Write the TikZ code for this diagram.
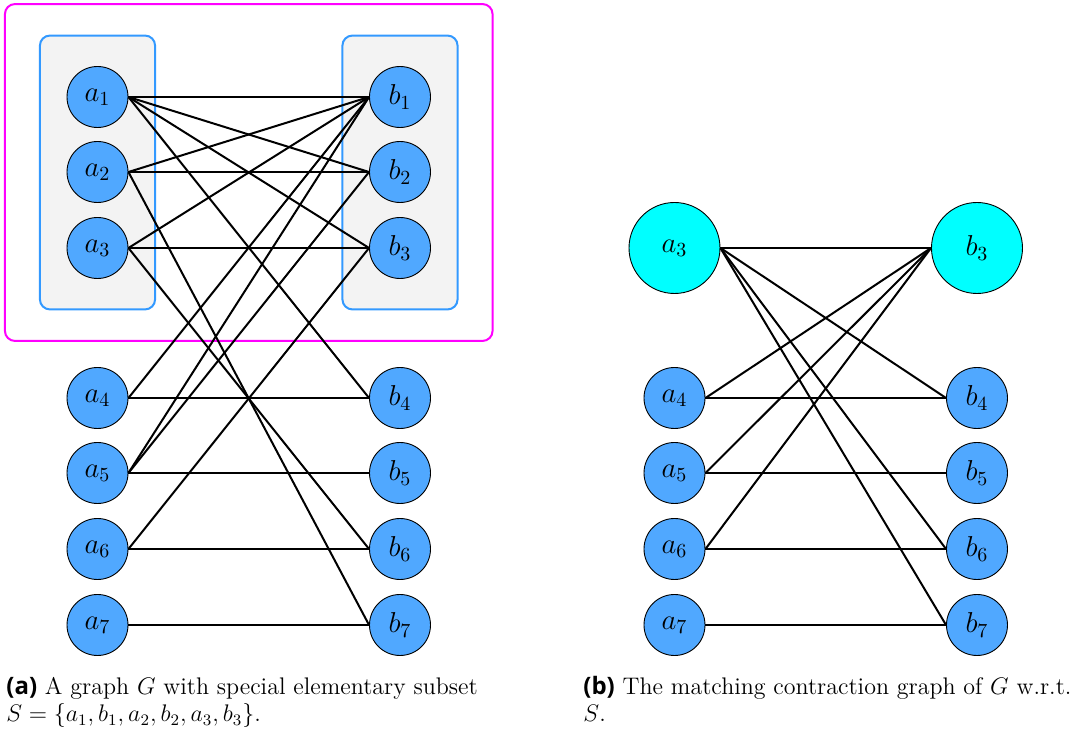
\documentclass[tikz,border=0pt]{standalone}
\usepackage{fontspec}
\newfontfamily\capsans{Open Sans}
\usetikzlibrary{fit,backgrounds}
\definecolor{nodeblue}{RGB}{80,168,255}
\definecolor{boxblue}{RGB}{51,153,255}
\definecolor{boxgray}{RGB}{243,243,243}
\definecolor{purecyan}{RGB}{0,255,255}
\definecolor{puremagenta}{RGB}{255,0,255}
\begin{document}
\begin{tikzpicture}[x=0.5pt,y=-0.5pt,
  vtx/.style={circle,draw=black,line width=0.45pt,fill=nodeblue,minimum size=30.5pt,inner sep=0pt,font=\fontsize{14.5}{14.5}\selectfont},
  bigvtx/.style={vtx,fill=purecyan,minimum size=45.5pt},
  edg/.style={line width=1pt,black},
  grp/.style={draw=boxblue,fill=boxgray,line width=1pt,rounded corners=5pt,inner xsep=13.3pt,inner ysep=15.25pt},
  outerbox/.style={draw=puremagenta,line width=1pt,rounded corners=5pt,inner xsep=17pt,inner ysep=15.25pt},
  captxt/.style={anchor=base west,inner sep=0pt,font=\fontsize{12}{13.5}\selectfont}]
\useasboundingbox (0,0) rectangle (1073,731);
% graph (a)
\node[vtx] (a1) at (97.5,97) {$a_1$};
\node[vtx] (a2) at (97.5,172) {$a_2$};
\node[vtx] (a3) at (97.5,248) {$a_3$};
\node[vtx] (a4) at (97.5,398) {$a_4$};
\node[vtx] (a5) at (97.5,473) {$a_5$};
\node[vtx] (a6) at (97.5,549) {$a_6$};
\node[vtx] (a7) at (97.5,625) {$a_7$};
\node[vtx] (b1) at (400,97) {$b_1$};
\node[vtx] (b2) at (400,172) {$b_2$};
\node[vtx] (b3) at (400,248) {$b_3$};
\node[vtx] (b4) at (400,398) {$b_4$};
\node[vtx] (b5) at (400,473) {$b_5$};
\node[vtx] (b6) at (400,549) {$b_6$};
\node[vtx] (b7) at (400,625) {$b_7$};
\begin{scope}[on background layer]
  \node[grp,fit=(a1)(a3)] (ga) {};
  \node[grp,fit=(b1)(b3)] (gb) {};
  \node[outerbox,fit=(ga)(gb)] (gs) {};
\end{scope}
\foreach \u/\v in {a1/b1,a1/b2,a1/b3,a1/b4,a2/b1,a2/b2,a2/b7,a3/b1,a3/b3,a3/b6,a4/b1,a4/b4,a5/b1,a5/b2,a5/b5,a6/b3,a6/b6,a7/b7}
  \draw[edg] (\u.east) -- (\v.west);
% graph (b)
\node[bigvtx] (c3) at (674.5,248) {$a_3$};
\node[bigvtx] (d3) at (977,248) {$b_3$};
\node[vtx] (c4) at (674.5,398) {$a_4$};
\node[vtx] (c5) at (674.5,473) {$a_5$};
\node[vtx] (c6) at (674.5,549) {$a_6$};
\node[vtx] (c7) at (674.5,625) {$a_7$};
\node[vtx] (d4) at (977,398) {$b_4$};
\node[vtx] (d5) at (977,473) {$b_5$};
\node[vtx] (d6) at (977,549) {$b_6$};
\node[vtx] (d7) at (977,625) {$b_7$};
\foreach \u/\v in {c3/d3,c3/d4,c3/d6,c3/d7,c4/d3,c4/d4,c5/d3,c5/d5,c6/d3,c6/d6,c7/d7}
  \draw[edg] (\u.east) -- (\v.west);
% captions
\node[captxt] (capa1) at (6,695) {{\capsans\bfseries (a)} A graph $G$ with special elementary subset};
\node[captxt] (capa2) at (6,722) {$S=\{a_1,b_1,a_2,b_2,a_3,b_3\}$.};
\node[captxt] (capb1) at (583,695) {{\capsans\bfseries (b)} The matching contraction graph of $G$ w.r.t.};
\node[captxt] (capb2) at (583,722) {$S$.};
\end{tikzpicture}
\end{document}
